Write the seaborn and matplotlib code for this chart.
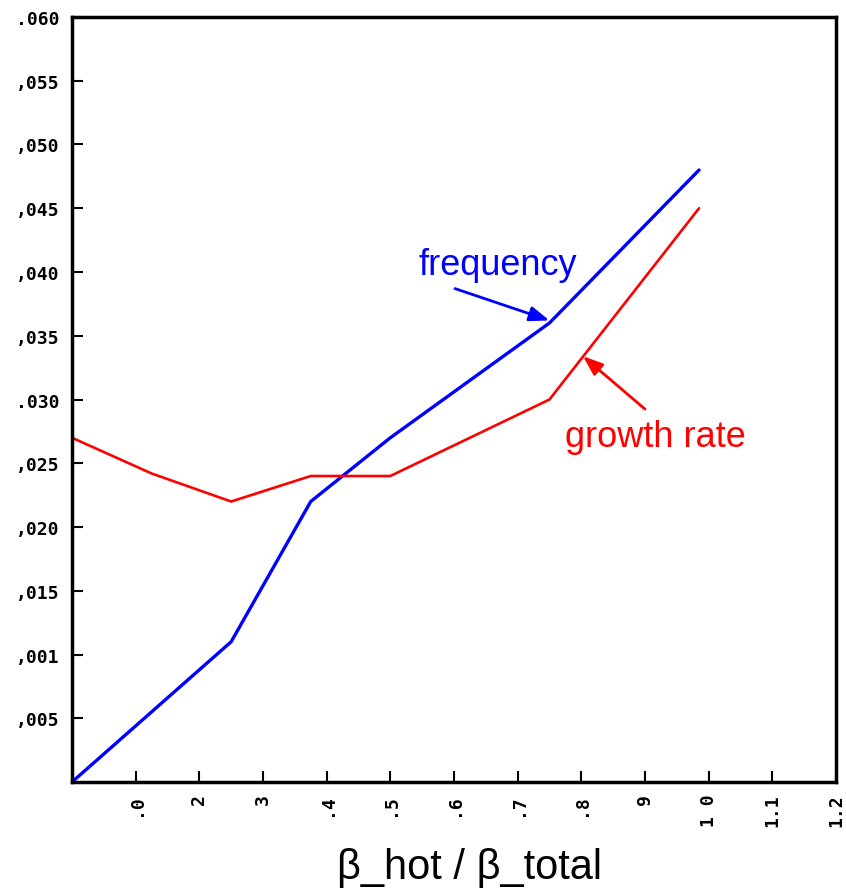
import matplotlib
matplotlib.use("Agg")
import matplotlib.pyplot as plt
import seaborn as sns
import pandas as pd

# data
freq_x = [0.0, 0.25, 0.375, 0.5, 0.75, 0.985]
freq_y = [0.0, 0.011, 0.022, 0.027, 0.036, 0.048]
growth_x = [0.0, 0.125, 0.25, 0.375, 0.5, 0.75, 0.985]
growth_y = [0.027, 0.0242, 0.022, 0.024, 0.024, 0.030, 0.045]

x_ticks = [0.1, 0.2, 0.3, 0.4, 0.5, 0.6, 0.7, 0.8, 0.9, 1.0, 1.1, 1.2]
x_ticklabels = [".0", "2", "3", ".4", ".5", ".6", ".7", ".8", "9", "1 0", "1.1", "1.2"]
y_ticks = [0.005, 0.010, 0.015, 0.020, 0.025, 0.030, 0.035, 0.040, 0.045, 0.050, 0.055, 0.060]
y_ticklabels = [",005", ",001", ",015", ",020", ",025", ".030", ",035", ",040", ",045", ",050", ",055", ".060"]

sns.set_style("white")
plt.rcParams['font.family'] = ['Liberation Sans', 'DejaVu Sans']
plt.rcParams['text.color'] = 'black'
plt.rcParams['axes.labelcolor'] = 'black'
plt.rcParams['xtick.color'] = 'black'
plt.rcParams['ytick.color'] = 'black'

fig = plt.figure(figsize=(8.46, 8.95), dpi=100)
ax = fig.add_axes([0.0851, 0.1251, 0.9030, 0.8548])

df_f = pd.DataFrame({"x": freq_x, "y": freq_y})
df_g = pd.DataFrame({"x": growth_x, "y": growth_y})
sns.lineplot(data=df_f, x="x", y="y", ax=ax, color="#0000ff", linewidth=2.4, sort=False)
sns.lineplot(data=df_g, x="x", y="y", ax=ax, color="#ff0000", linewidth=1.9, sort=False)

ax.set_xlim(0, 1.2)
ax.set_ylim(0, 0.060)
ax.set_xticks(x_ticks)
ax.set_xticklabels(x_ticklabels, rotation=90, family="DejaVu Sans Mono",
                   fontweight="bold", fontsize=13)
ax.set_yticks(y_ticks)
ax.set_yticklabels(y_ticklabels, family="DejaVu Sans Mono", fontweight="bold", fontsize=13)
ax.tick_params(axis="y", direction="in", length=8, width=1.5, pad=9,
               left=True, right=False)
ax.tick_params(axis="x", direction="in", length=8, width=1.5, pad=8,
               bottom=True, top=False)
for s in ax.spines.values():
    s.set_visible(True)
    s.set_color("black")
    s.set_linewidth(2.5)

ax.set_xlabel("β_hot / β_total", fontsize=30)
ax.xaxis.set_label_coords(0.52, -0.085)
ax.set_ylabel("")

ax.text(0.669, 0.0406, "frequency", color="#0000ff", fontsize=26,
        ha="center", va="center")
ax.annotate("", xy=(0.75, 0.0362), xytext=(0.6015, 0.0387),
            arrowprops=dict(arrowstyle="-|>,head_length=1.2,head_width=0.45",
                            color="#0000ff", lw=2, shrinkA=0, shrinkB=0))
ax.text(0.917, 0.0271, "growth rate", color="#ff0000", fontsize=26,
        ha="center", va="center")
ax.annotate("", xy=(0.8026, 0.0334), xytext=(0.90, 0.02925),
            arrowprops=dict(arrowstyle="-|>,head_length=1.2,head_width=0.45",
                            color="#ff0000", lw=2, shrinkA=0, shrinkB=0))

fig.savefig("out.png", dpi=100)
